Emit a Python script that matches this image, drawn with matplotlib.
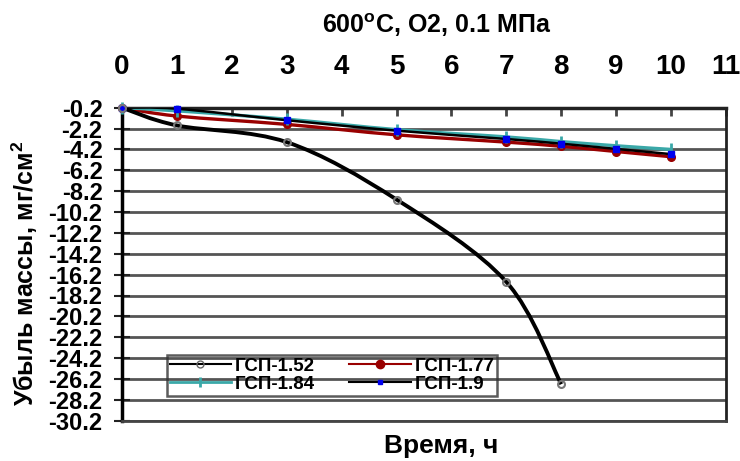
import matplotlib
matplotlib.use("Agg")
import matplotlib.pyplot as plt
from matplotlib.path import Path
from matplotlib.patches import PathPatch
from matplotlib.lines import Line2D

plt.rcParams['font.family'] = ['Liberation Sans', 'DejaVu Sans']

# ---- data ----
x_152 = [0, 1, 3, 5, 7, 8]
y_152 = [-0.2, -1.9, -3.5, -9.0, -16.9, -26.7]

x_other = [0, 1, 3, 5, 7, 8, 9, 10]
y_177 = [-0.2, -1.0, -1.8, -2.8, -3.5, -3.9, -4.4, -4.9]
y_184 = [-0.2, -0.5, -1.3, -2.3, -3.0, -3.45, -3.85, -4.2]
y_19 = [-0.2, -0.3, -1.4, -2.4, -3.2, -3.65, -4.15, -4.65]

labels = ["ГСП-1.52", "ГСП-1.77", "ГСП-1.84", "ГСП-1.9"]
x_ticks = list(range(0, 12))
y_ticks = [-0.2, -2.2, -4.2, -6.2, -8.2, -10.2, -12.2, -14.2, -16.2, -18.2,
           -20.2, -22.2, -24.2, -26.2, -28.2, -30.2]
title = "600$^{\\mathregular{o}}$C, O2, 0.1 МПа"
xlabel = "Время, ч"
ylabel = "Убыль массы, мг/см$^{\\mathregular{2}}$"


def smooth_path(x, y):
    n = len(x)
    verts = [(x[0], y[0])]
    codes = [Path.MOVETO]
    for i in range(n - 1):
        a = i - 1 if i > 0 else i
        d = i + 2 if i + 2 < n else i + 1
        c1 = (x[i] + (x[i + 1] - x[a]) / 6.0, y[i] + (y[i + 1] - y[a]) / 6.0)
        c2 = (x[i + 1] - (x[d] - x[i]) / 6.0, y[i + 1] - (y[d] - y[i]) / 6.0)
        verts += [c1, c2, (x[i + 1], y[i + 1])]
        codes += [Path.CURVE4] * 3
    return Path(verts, codes)


fig = plt.figure(figsize=(7.4, 4.61), dpi=100)
ax = fig.add_axes([122 / 740, 1 - 420.7 / 461, (726 - 122) / 740, (420.7 - 107.7) / 461])

ax.set_xlim(0, 11)
ax.set_ylim(-30.2, -0.2)

# grid
ax.set_yticks(y_ticks)
ax.set_yticklabels([f"{v:.1f}" for v in y_ticks])
ax.yaxis.grid(True, color='#555555', linewidth=2.0)
ax.set_axisbelow(True)

ax.xaxis.tick_top()
ax.set_xticks(x_ticks)
ax.set_xticklabels([str(v) for v in x_ticks])
ax.tick_params(axis='x', direction='in', length=6, width=2, color='#444444',
               pad=20, labelsize=20)
for lab in ax.get_xticklabels():
    lab.set_fontweight('bold')
ax.tick_params(axis='y', direction='inout', length=12, width=1.5, color='#222222',
               pad=8, labelsize=17)
for lab in ax.get_yticklabels():
    lab.set_fontweight('bold')

ax.spines['left'].set_linewidth(2.5)
ax.spines['left'].set_color('black')
ax.spines['top'].set_linewidth(2.5)
ax.spines['top'].set_color('#222222')
ax.spines['right'].set_linewidth(2.0)
ax.spines['right'].set_color('#222222')
ax.spines['bottom'].set_linewidth(2.0)
ax.spines['bottom'].set_color('#444444')

teal = '#3AA8A8'
red = '#990000'

# series ГСП-1.77
ax.add_patch(PathPatch(smooth_path(x_other, y_177), fill=False, edgecolor=red, lw=2.4, zorder=3))
ax.plot(x_other, y_177, linestyle='none', marker='o', ms=5.5, color=red, zorder=4, clip_on=False)
# series ГСП-1.84
ax.add_patch(PathPatch(smooth_path(x_other, y_184), fill=False, edgecolor=teal, lw=2.4, zorder=3))
ax.plot(x_other, y_184, linestyle='none', marker='|', ms=8, mew=2, color=teal, zorder=4, clip_on=False)
# series ГСП-1.9
ax.add_patch(PathPatch(smooth_path(x_other, y_19), fill=False, edgecolor='black', lw=1.8, zorder=5))
ax.plot(x_other, y_19, linestyle='none', marker='s', ms=4, color='#0000EE', zorder=6, clip_on=False)
# series ГСП-1.52
ax.add_patch(PathPatch(smooth_path(x_152, y_152), fill=False, edgecolor='black', lw=2.8, zorder=5))
ax.plot(x_152, y_152, linestyle='none', marker='o', ms=5, mfc='none', mec='#777777', mew=1.5,
        zorder=6, clip_on=False)

h152 = Line2D([], [], color='black', lw=1.5, marker='o', ms=5, mfc='none', mec='#666666')
h177 = Line2D([], [], color=red, lw=1.5, marker='o', ms=6)
h184 = Line2D([], [], color=teal, lw=2, marker='|', ms=7, mew=2)
h19 = Line2D([], [], color='black', lw=1.5, marker='s', ms=3, mfc='#0000EE', mec='#0000EE')
# matplotlib fills columns first; reorder so rows read 1.52, 1.77 / 1.84, 1.9
handles = [h152, h184, h177, h19]
leg_labels = [labels[0], labels[2], labels[1], labels[3]]
leg = ax.legend(handles, leg_labels, ncol=2, loc='upper left',
                bbox_to_anchor=((166.7 - 122) / 604, (420.7 - 355) / 313),
                frameon=True, fancybox=False, edgecolor='#333333', facecolor='none',
                prop={'weight': 'bold', 'size': 13.5}, handlelength=3.3,
                labelspacing=0.05, columnspacing=1.8, borderpad=0.15, handletextpad=0.2,
                borderaxespad=0)
leg.get_frame().set_linewidth(1.8)

fig.text(437 / 740, 1 - 25 / 461, title, ha='center', va='center', fontsize=18, fontweight='bold')
fig.text(441 / 740, 1 - 446 / 461, xlabel, ha='center', va='center', fontsize=19, fontweight='bold')
fig.text(25 / 740, 1 - 273 / 461, ylabel, ha='center', va='center', rotation=90,
         fontsize=18, fontweight='bold')

fig.savefig('out.png', dpi=100)
